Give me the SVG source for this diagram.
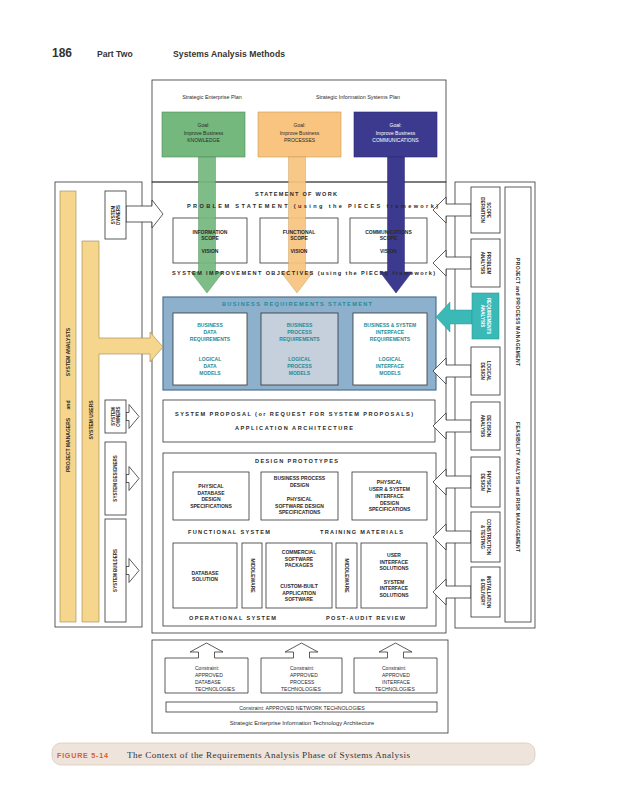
<svg xmlns="http://www.w3.org/2000/svg" width="619" height="800" viewBox="0 0 619 800">
<style>
.ln{fill:none;stroke:#333;stroke-width:0.8}
.bx{fill:#fff;stroke:#333;stroke-width:0.8}
.wa{fill:#fff;stroke:#333;stroke-width:0.8}
.t{font-family:"Liberation Sans",Arial,sans-serif;font-weight:bold;font-size:5px;fill:#2a2a2a;text-anchor:middle}
.h{font-family:"Liberation Sans",Arial,sans-serif;font-weight:bold;font-size:5.6px;fill:#2a2a2a}
.tl{fill:#1f8d97}
.m{font-family:"Liberation Sans",Arial,sans-serif;font-size:5.4px;fill:#2a2a2a;text-anchor:middle}
.c{font-family:"Liberation Sans",Arial,sans-serif;font-size:5px;fill:#2a2a2a}
.yl{fill:#f6d68c;stroke:#9a8550;stroke-width:0.6}
</style>
<rect width="619" height="800" fill="#fff"/>

<g id="header">
<text x="52" y="57" font-family="Liberation Sans,Arial,sans-serif" font-weight="bold" font-size="12" fill="#333">186</text>
<text x="97" y="57" font-family="Liberation Sans,Arial,sans-serif" font-weight="bold" font-size="8.6" fill="#333">Part Two</text>
<text x="173" y="57" font-family="Liberation Sans,Arial,sans-serif" font-weight="bold" font-size="8.6" fill="#333" textLength="112">Systems Analysis Methods</text>
</g>

<g id="frames">
<rect class="ln" x="152" y="80" width="294" height="102"/>
<rect class="ln" x="152" y="182" width="294" height="451"/>
<rect class="ln" x="55" y="182" width="87" height="445"/>
<rect class="ln" x="455" y="182" width="80" height="446"/>
<rect class="ln" x="505" y="187" width="26" height="435"/>
</g>

<g id="strategic-plans">
<text class="m" x="212" y="99">Strategic Enterprise Plan</text>
<text class="m" x="358" y="99">Strategic Information Systems Plan</text>
</g>

<g id="goal-knowledge">
<rect x="162" y="112" width="83" height="45" fill="#74b87d" stroke="#4f8a58" stroke-width="0.6"/>
<text class="m" x="203.5" y="127" style="font-size:5px">Goal:</text>
<text class="m" x="203.5" y="134.5" style="font-size:5px">Improve Business</text>
<text class="m" x="203.5" y="142" style="font-size:5px">KNOWLEDGE</text>
</g>
<g id="goal-processes">
<rect x="258" y="112" width="83" height="45" fill="#f8c47f" stroke="#c99a5a" stroke-width="0.6"/>
<text class="m" x="299.5" y="127" style="font-size:5px">Goal:</text>
<text class="m" x="299.5" y="134.5" style="font-size:5px">Improve Business</text>
<text class="m" x="299.5" y="142" style="font-size:5px">PROCESSES</text>
</g>
<g id="goal-communications">
<rect x="354" y="112" width="83" height="45" fill="#3c3a8e" stroke="#2a2870" stroke-width="0.6"/>
<text class="m" x="395.5" y="127" style="font-size:5px;fill:#fff">Goal:</text>
<text class="m" x="395.5" y="134.5" style="font-size:5px;fill:#fff">Improve Business</text>
<text class="m" x="395.5" y="142" style="font-size:5px;fill:#fff">COMMUNICATIONS</text>
</g>

<g id="scope-boxes">
<rect class="bx" x="173" y="218" width="74" height="45"/>
<rect class="bx" x="260" y="218" width="78" height="45"/>
<rect class="bx" x="350" y="218" width="77" height="45"/>
</g>

<g id="business-requirements">
<rect x="163" y="297" width="273" height="93" fill="#8db0cd" stroke="#4f7290" stroke-width="1.2"/>
<rect class="bx" x="173" y="313" width="74" height="72"/>
<rect x="261" y="313" width="77" height="72" fill="#c6cfdc" stroke="#333" stroke-width="0.8"/>
<rect class="bx" x="353" y="313" width="74" height="72"/>
</g>

<g id="system-proposal">
<rect class="bx" x="163" y="400" width="272" height="42"/>
</g>

<g id="design-prototypes">
<rect class="bx" x="163" y="453" width="273" height="173"/>
<rect class="bx" x="173" y="472" width="76" height="48"/>
<rect class="bx" x="261" y="472" width="77" height="48"/>
<rect class="bx" x="352" y="472" width="75" height="48"/>
<rect class="bx" x="173" y="543" width="64" height="65"/>
<rect class="bx" x="242" y="543" width="20" height="65"/>
<rect class="bx" x="266" y="543" width="66" height="65"/>
<rect class="bx" x="336" y="543" width="21" height="65"/>
<rect class="bx" x="361" y="543" width="66" height="65"/>
</g>

<g id="connectors">
<path d="M198.5,157 V272 H191 L207,293 L223,272 H215.5 V157 Z" fill="#74b87d" stroke="#4f8a58" stroke-width="0.5" opacity="0.92"/>
<path d="M288.5,157 V272 H281 L297,293 L313,272 H305.5 V157 Z" fill="#f8c47f" stroke="#c99a5a" stroke-width="0.5" opacity="0.92"/>
<path d="M387.5,157 V272 H380 L396,293 L412,272 H404.5 V157 Z" fill="#3c3a8e" stroke="#2a2870" stroke-width="0.5"/>
<path class="wa" d="M126,206 H152 V200 L163,214 L152,228 V222 H126 Z"/>
<path class="wa" d="M126,412.5 H129 V404.5 L139,416.5 L129,428.5 V420.5 H126 Z"/>
<path class="wa" d="M126,474.5 H129 V466.5 L139,478.5 L129,490.5 V482.5 H126 Z"/>
<path class="wa" d="M126,566.5 H129 V558.5 L139,570.5 L129,582.5 V574.5 H126 Z"/>
<path class="wa" d="M471,204 H446 V197 L433,210 L446,223 V216 H471 Z"/>
<path class="wa" d="M471,257 H446 V250 L433,263 L446,276 V269 H471 Z"/>
<path d="M472,310 H450 V302 L436,317 L450,332 V324 H472 Z" fill="#3bb9b7" stroke="#2a9a98" stroke-width="0.5"/>
<path class="wa" d="M471,365 H446 V358 L433,371 L446,384 V377 H471 Z"/>
<path class="wa" d="M471,420 H446 V413 L433,426 L446,439 V432 H471 Z"/>
<path class="wa" d="M471,476 H446 V469 L433,482 L446,495 V488 H471 Z"/>
<path class="wa" d="M471,531 H446 V524 L433,537 L446,550 V543 H471 Z"/>
<path class="wa" d="M471,586 H446 V579 L433,592 L446,605 V598 H471 Z"/>
</g>

<g id="statement-texts">
<text class="h" x="255" y="196" textLength="82">STATEMENT OF WORK</text>
<text class="h" x="187" y="208" textLength="251">PROBLEM STATEMENT (using the PIECES framework)</text>
<text class="t" x="210" y="234">INFORMATION</text>
<text class="t" x="210" y="240">SCOPE</text>
<text class="t" x="210" y="253">VISION</text>
<text class="t" x="299" y="234">FUNCTIONAL</text>
<text class="t" x="299" y="240">SCOPE</text>
<text class="t" x="299" y="253">VISION</text>
<text class="t" x="388.5" y="234">COMMUNICATIONS</text>
<text class="t" x="388.5" y="240">SCOPE</text>
<text class="t" x="388.5" y="253">VISION</text>
<text class="h" x="172" y="275" textLength="263">SYSTEM IMPROVEMENT OBJECTIVES (using the PIECES framework)</text>
</g>

<g id="br-texts">
<text class="h tl" x="222" y="306" textLength="150">BUSINESS REQUIREMENTS STATEMENT</text>
<text class="t tl" x="210" y="327">BUSINESS</text>
<text class="t tl" x="210" y="334">DATA</text>
<text class="t tl" x="210" y="341">REQUIREMENTS</text>
<text class="t tl" x="210" y="361">LOGICAL</text>
<text class="t tl" x="210" y="368">DATA</text>
<text class="t tl" x="210" y="375">MODELS</text>
<text class="t tl" x="299.5" y="327">BUSINESS</text>
<text class="t tl" x="299.5" y="334">PROCESS</text>
<text class="t tl" x="299.5" y="341">REQUIREMENTS</text>
<text class="t tl" x="299.5" y="361">LOGICAL</text>
<text class="t tl" x="299.5" y="368">PROCESS</text>
<text class="t tl" x="299.5" y="375">MODELS</text>
<text class="t tl" x="390" y="327">BUSINESS &amp; SYSTEM</text>
<text class="t tl" x="390" y="334">INTERFACE</text>
<text class="t tl" x="390" y="341">REQUIREMENTS</text>
<text class="t tl" x="390" y="361">LOGICAL</text>
<text class="t tl" x="390" y="368">INTERFACE</text>
<text class="t tl" x="390" y="375">MODELS</text>
</g>

<g id="proposal-texts">
<text class="h" x="175" y="416" textLength="238">SYSTEM PROPOSAL (or REQUEST FOR SYSTEM PROPOSALS)</text>
<text class="h" x="235" y="430" textLength="118">APPLICATION ARCHITECTURE</text>
</g>

<g id="design-texts">
<text class="h" x="255" y="463" textLength="83">DESIGN PROTOTYPES</text>
<text class="t" x="211" y="488">PHYSICAL</text>
<text class="t" x="211" y="494.5">DATABASE</text>
<text class="t" x="211" y="501">DESIGN</text>
<text class="t" x="211" y="507.5">SPECIFICATIONS</text>
<text class="t" x="299.5" y="480">BUSINESS PROCESS</text>
<text class="t" x="299.5" y="487">DESIGN</text>
<text class="t" x="299.5" y="501">PHYSICAL</text>
<text class="t" x="299.5" y="507.5">SOFTWARE DESIGN</text>
<text class="t" x="299.5" y="514">SPECIFICATIONS</text>
<text class="t" x="389.5" y="484">PHYSICAL</text>
<text class="t" x="389.5" y="491">USER &amp; SYSTEM</text>
<text class="t" x="389.5" y="497.5">INTERFACE</text>
<text class="t" x="389.5" y="504.5">DESIGN</text>
<text class="t" x="389.5" y="511">SPECIFICATIONS</text>
<text class="h" x="188" y="534" textLength="82">FUNCTIONAL SYSTEM</text>
<text class="h" x="320" y="534" textLength="83">TRAINING MATERIALS</text>
<text class="t" x="205" y="575">DATABASE</text>
<text class="t" x="205" y="581">SOLUTION</text>
<text class="t" transform="translate(250.5,575.5) rotate(90)">MIDDLEWARE</text>
<text class="t" x="299" y="554">COMMERCIAL</text>
<text class="t" x="299" y="560.5">SOFTWARE</text>
<text class="t" x="299" y="567">PACKAGES</text>
<text class="t" x="299" y="588">CUSTOM-BUILT</text>
<text class="t" x="299" y="594.5">APPLICATION</text>
<text class="t" x="299" y="601">SOFTWARE</text>
<text class="t" transform="translate(345,575.5) rotate(90)">MIDDLEWARE</text>
<text class="t" x="394" y="557">USER</text>
<text class="t" x="394" y="563.5">INTERFACE</text>
<text class="t" x="394" y="570">SOLUTIONS</text>
<text class="t" x="394" y="583.5">SYSTEM</text>
<text class="t" x="394" y="590">INTERFACE</text>
<text class="t" x="394" y="596.5">SOLUTIONS</text>
<text class="h" x="189" y="620" textLength="87">OPERATIONAL SYSTEM</text>
<text class="h" x="326" y="620" textLength="79">POST-AUDIT REVIEW</text>
</g>

<g id="project-managers-analysts">
<rect class="yl" x="60" y="191" width="16" height="431"/>
<text class="t" transform="translate(70,352) rotate(-90)">SYSTEM ANALYSTS</text>
<text class="t" transform="translate(70,405) rotate(-90)">and</text>
<text class="t" transform="translate(70,445) rotate(-90)">PROJECT MANAGERS</text>
</g>

<g id="system-users">
<path class="yl" d="M82,241 H99 V338 H150 V332 L163,347 L150,362 V354 H99 V622 H82 Z"/>
<text class="t" transform="translate(92.5,420) rotate(-90)">SYSTEM USERS</text>
</g>

<g id="system-owners-1">
<rect class="bx" x="105" y="191" width="21" height="48"/>
<text class="t" transform="translate(115.5,215) rotate(-90)" style="font-size:4.5px"><tspan x="0" y="-1">SYSTEM</tspan><tspan x="0" y="4.5">OWNERS</tspan></text>
</g>
<g id="system-owners-2">
<rect class="bx" x="105" y="400" width="21" height="33"/>
<text class="t" transform="translate(115.5,416.5) rotate(-90)" style="font-size:4.5px"><tspan x="0" y="-1">SYSTEM</tspan><tspan x="0" y="4.5">OWNERS</tspan></text>
</g>
<g id="system-designers">
<rect class="bx" x="105" y="442" width="21" height="73"/>
<text class="t" transform="translate(117.2,478.5) rotate(-90)" style="font-size:4.5px">SYSTEM DESIGNERS</text>
</g>
<g id="system-builders">
<rect class="bx" x="105" y="519" width="21" height="103"/>
<text class="t" transform="translate(117.2,570.5) rotate(-90)" style="font-size:4.5px">SYSTEM BUILDERS</text>
</g>

<g id="phase-scope-definition">
<rect class="bx" x="471" y="187" width="29" height="46"/>
<text class="t" transform="translate(485.5,210) rotate(90)" style="font-size:4.5px"><tspan x="0" y="-1">SCOPE</tspan><tspan x="0" y="4.5">DEFINITION</tspan></text>
</g>
<g id="phase-problem-analysis">
<rect class="bx" x="471" y="239" width="29" height="48"/>
<text class="t" transform="translate(485.5,263) rotate(90)" style="font-size:4.5px"><tspan x="0" y="-1">PROBLEM</tspan><tspan x="0" y="4.5">ANALYSIS</tspan></text>
</g>
<g id="phase-requirements-analysis">
<rect x="472" y="293" width="27" height="46" fill="#3bb9b7" stroke="#2a9a98" stroke-width="0.6"/>
<text class="t" transform="translate(485.5,316) rotate(90)" style="font-size:4.5px;fill:#fff"><tspan x="0" y="-1">REQUIREMENTS</tspan><tspan x="0" y="4.5">ANALYSIS</tspan></text>
</g>
<g id="phase-logical-design">
<rect class="bx" x="471" y="347" width="29" height="48"/>
<text class="t" transform="translate(485.5,371) rotate(90)" style="font-size:4.5px"><tspan x="0" y="-1">LOGICAL</tspan><tspan x="0" y="4.5">DESIGN</tspan></text>
</g>
<g id="phase-decision-analysis">
<rect class="bx" x="471" y="402" width="29" height="48"/>
<text class="t" transform="translate(485.5,426) rotate(90)" style="font-size:4.5px"><tspan x="0" y="-1">DECISION</tspan><tspan x="0" y="4.5">ANALYSIS</tspan></text>
</g>
<g id="phase-physical-design">
<rect class="bx" x="471" y="457" width="29" height="50"/>
<text class="t" transform="translate(485.5,482) rotate(90)" style="font-size:4.5px"><tspan x="0" y="-1">PHYSICAL</tspan><tspan x="0" y="4.5">DESIGN</tspan></text>
</g>
<g id="phase-construction-testing">
<rect class="bx" x="471" y="512" width="29" height="50"/>
<text class="t" transform="translate(485.5,537) rotate(90)" style="font-size:4.5px"><tspan x="0" y="-1">CONSTRUCTION</tspan><tspan x="0" y="4.5">&amp; TESTING</tspan></text>
</g>
<g id="phase-installation-delivery">
<rect class="bx" x="471" y="567" width="29" height="50"/>
<text class="t" transform="translate(485.5,592) rotate(90)" style="font-size:4.5px"><tspan x="0" y="-1">INSTALLATION</tspan><tspan x="0" y="4.5">&amp; DELIVERY</tspan></text>
</g>

<g id="management-bar">
<text class="t" transform="translate(516,312) rotate(90)" textLength="108">PROJECT and PROCESS MANAGEMENT</text>
<text class="t" transform="translate(516,487) rotate(90)" textLength="130">FEASIBILITY ANALYSIS and RISK MANAGEMENT</text>
</g>

<g id="constraints">
<rect class="ln" x="152" y="640" width="296" height="93"/>
<path class="bx" d="M165,693 V658 H198.5 V652 H190 L206.5,643 L223,652 H214.5 V658 H248 V693 Z"/>
<path class="bx" d="M261,693 V658 H293.5 V652 H285 L301.5,643 L318,652 H309.5 V658 H342 V693 Z"/>
<path class="bx" d="M354,693 V658 H387.5 V652 H379 L395.5,643 L412,652 H403.5 V658 H437 V693 Z"/>
<text class="c" x="195" y="670">Constraint:</text>
<text class="c" x="195" y="677">APPROVED</text>
<text class="c" x="195" y="684">DATABASE</text>
<text class="c" x="195" y="691">TECHNOLOGIES</text>
<text class="c" x="290" y="670">Constraint:</text>
<text class="c" x="290" y="677">APPROVED</text>
<text class="c" x="290" y="684">PROCESS</text>
<text class="c" x="281" y="691">TECHNOLOGIES</text>
<text class="c" x="382" y="670">Constraint:</text>
<text class="c" x="382" y="677">APPROVED</text>
<text class="c" x="382" y="684">INTERFACE</text>
<text class="c" x="375" y="691">TECHNOLOGIES</text>
<rect class="bx" x="166" y="702" width="271" height="10"/>
<text class="m" x="302" y="709.5" style="font-size:5.2px">Constraint: APPROVED NETWORK TECHNOLOGIES</text>
<text class="m" x="302" y="725" style="font-size:5.8px">Strategic Enterprise Information Technology Architecture</text>
</g>

<g id="caption">
<rect x="52" y="743" width="483" height="22" rx="9" fill="#efe4db" stroke="#d9c9bd" stroke-width="0.8"/>
<text x="57" y="758" font-family="Liberation Sans,Arial,sans-serif" font-weight="bold" font-size="7.2" fill="#e05a2b" textLength="51">FIGURE 5-14</text>
<text x="127" y="758" font-family="Liberation Serif,Times New Roman,serif" font-size="9.2" fill="#333" textLength="283">The Context of the Requirements Analysis Phase of Systems Analysis</text>
</g>
</svg>
